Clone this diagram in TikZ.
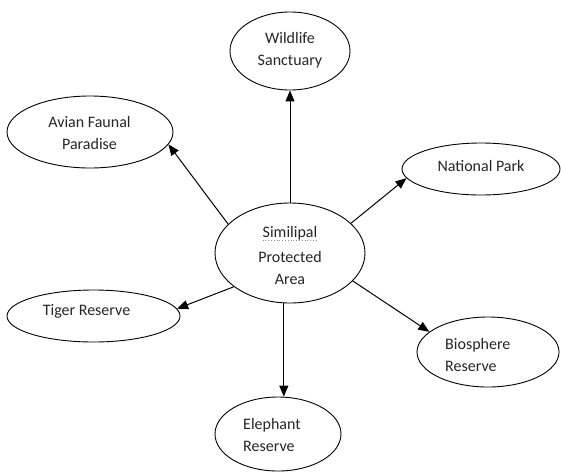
\documentclass[tikz,border=0pt]{standalone}
\usepackage{fontspec}
\setmainfont{Carlito}
\usetikzlibrary{shapes.geometric,arrows.meta}
\begin{document}
\begin{tikzpicture}[x=1pt,y=-1pt,
  bubble/.style={draw=black,line width=0.9pt,ellipse,inner sep=0pt},
  caption/.style={inner sep=0pt,font=\fontsize{16}{22.5}\selectfont,text=black!85},
  link/.style={draw=black,line width=1pt,-{Triangle[length=11pt,width=9pt]}}]
  \useasboundingbox[fill=white] (0,0) rectangle (561,472);

  % ellipses
  \node[bubble,minimum width=150pt,minimum height=100pt] (C) at (290,253) {};
  \node[bubble,minimum width=120pt,minimum height=78pt]  (W) at (290,51) {};
  \node[bubble,minimum width=166pt,minimum height=72pt]  (A) at (90,132) {};
  \node[bubble,minimum width=158pt,minimum height=52pt]  (N) at (481,169) {};
  \node[bubble,minimum width=173pt,minimum height=52pt]  (T) at (93.5,316) {};
  \node[bubble,minimum width=142pt,minimum height=70pt]  (B) at (488,352) {};
  \node[bubble,minimum width=126pt,minimum height=74pt]  (E) at (278,434) {};

  % labels
  \node[caption] (sim) at (290,233) {Similipal};
  \node[caption,align=center] (Ct) at (290,268) {Protected\\Area};
  \draw[black!45,line width=0.8pt,dotted] ([yshift=-3pt]sim.base west) -- ([yshift=-3pt]sim.base east);
  \node[caption,align=center] (Wt) at (290,50) {Wildlife\\Sanctuary};
  \node[caption,align=center] (At) at (89.5,133) {Avian Faunal\\Paradise};
  \node[caption] (Nt) at (481,166) {National Park};
  \node[caption] (Tt) at (86.5,311) {Tiger Reserve};
  \node[caption,align=left,anchor=west] (Bt) at (445,355) {Biosphere\\Reserve};
  \node[caption,align=left,anchor=west] (Et) at (243,435) {Elephant\\Reserve};

  % connectors
  \draw[link] (C.north) -- (W.south);
  \draw[link] (C.155) -- (A.351);
  \draw[link] (C.26) -- (N.187);
  \draw[link] (C.211) -- (T.5);
  \draw[link] (C.336) -- (B.161);
  \draw[link] (C.263) -- (C.263 |- E.north);
\end{tikzpicture}
\end{document}
